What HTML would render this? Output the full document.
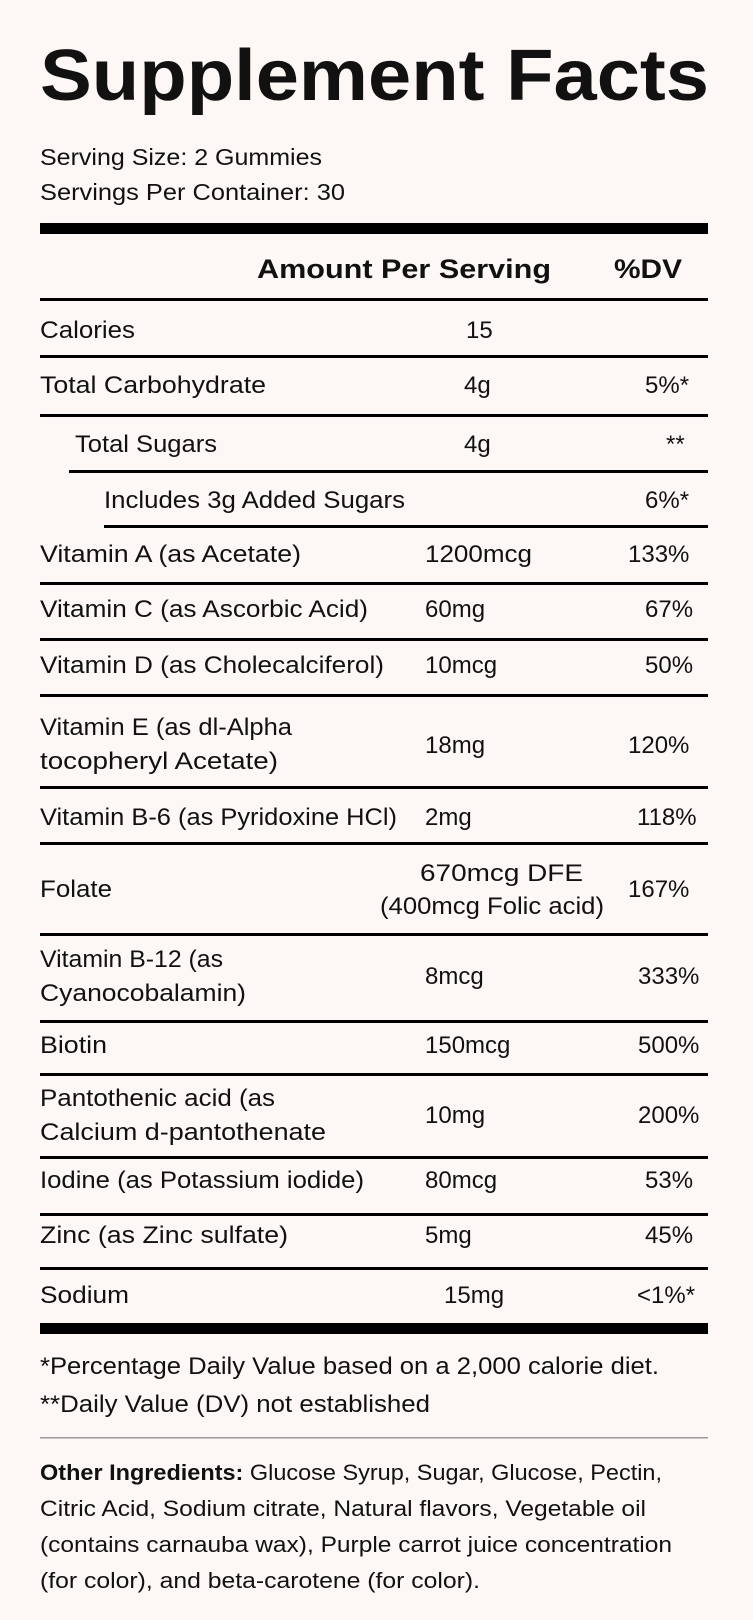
<!DOCTYPE html>
<html><head><meta charset="utf-8"><style>
html,body{margin:0;padding:0;background:#fdf8f5;}
svg{display:block;}
text{font-family:"Liberation Sans",sans-serif;fill:#111;font-size:24px;}
.b{font-weight:bold;}
</style></head><body>
<svg width="753" height="1620" viewBox="0 0 753 1620" xmlns="http://www.w3.org/2000/svg">
<rect width="753" height="1620" fill="#fdf8f5"/>
<text x="40" y="100" class="b" style="font-size:72px" textLength="669" lengthAdjust="spacingAndGlyphs">Supplement Facts</text>
<text x="40" y="165" style="font-size:23px" textLength="282" lengthAdjust="spacingAndGlyphs">Serving Size: 2 Gummies</text>
<text x="40" y="200" style="font-size:23px" textLength="305" lengthAdjust="spacingAndGlyphs">Servings Per Container: 30</text>
<rect x="40" y="223" width="668" height="11" fill="#000"/>
<text x="257" y="278" class="b" style="font-size:27px" textLength="294" lengthAdjust="spacingAndGlyphs">Amount Per Serving</text>
<text x="614" y="278" class="b" style="font-size:27px" textLength="68" lengthAdjust="spacingAndGlyphs">%DV</text>
<g fill="#000">
<rect x="40" y="298" width="668" height="3"/>
<rect x="40" y="355" width="668" height="3"/>
<rect x="40" y="414" width="668" height="3"/>
<rect x="69" y="470" width="639" height="3"/>
<rect x="104" y="525" width="604" height="3"/>
<rect x="40" y="582" width="668" height="3"/>
<rect x="40" y="638" width="668" height="3"/>
<rect x="40" y="694" width="668" height="3"/>
<rect x="40" y="786" width="668" height="3"/>
<rect x="40" y="842" width="668" height="3"/>
<rect x="40" y="933" width="668" height="3"/>
<rect x="40" y="1020" width="668" height="3"/>
<rect x="40" y="1073" width="668" height="3"/>
<rect x="40" y="1156" width="668" height="3"/>
<rect x="40" y="1213" width="668" height="3"/>
<rect x="40" y="1267" width="668" height="3"/>
<rect x="40" y="1323" width="668" height="11"/>
<rect x="40" y="1437" width="668" height="1.5" fill="#999"/>
</g>
<text x="40" y="338" textLength="95" lengthAdjust="spacingAndGlyphs">Calories</text>
<text x="466" y="338">15</text>
<text x="40" y="393" textLength="226" lengthAdjust="spacingAndGlyphs">Total Carbohydrate</text>
<text x="464" y="393">4g</text>
<text x="645" y="393">5%*</text>
<text x="75" y="452" textLength="142" lengthAdjust="spacingAndGlyphs">Total Sugars</text>
<text x="464" y="452">4g</text>
<text x="666" y="452">**</text>
<text x="104" y="508" textLength="301" lengthAdjust="spacingAndGlyphs">Includes 3g Added Sugars</text>
<text x="645" y="508">6%*</text>
<text x="40" y="562" textLength="261" lengthAdjust="spacingAndGlyphs">Vitamin A (as Acetate)</text>
<text x="425" y="562" textLength="107" lengthAdjust="spacingAndGlyphs">1200mcg</text>
<text x="628" y="562">133%</text>
<text x="40" y="617" textLength="328" lengthAdjust="spacingAndGlyphs">Vitamin C (as Ascorbic Acid)</text>
<text x="425" y="617">60mg</text>
<text x="645" y="617">67%</text>
<text x="40" y="673" textLength="344" lengthAdjust="spacingAndGlyphs">Vitamin D (as Cholecalciferol)</text>
<text x="425" y="673">10mcg</text>
<text x="645" y="673">50%</text>
<text x="40" y="735" textLength="252" lengthAdjust="spacingAndGlyphs">Vitamin E (as dl-Alpha</text>
<text x="40" y="769" textLength="238" lengthAdjust="spacingAndGlyphs">tocopheryl Acetate)</text>
<text x="425" y="753">18mg</text>
<text x="628" y="753">120%</text>
<text x="40" y="825" textLength="357" lengthAdjust="spacingAndGlyphs">Vitamin B-6 (as Pyridoxine HCl)</text>
<text x="425" y="825">2mg</text>
<text x="637" y="825">118%</text>
<text x="40" y="897" textLength="72" lengthAdjust="spacingAndGlyphs">Folate</text>
<text x="420" y="881" textLength="163" lengthAdjust="spacingAndGlyphs">670mcg DFE</text>
<text x="380" y="914" textLength="224" lengthAdjust="spacingAndGlyphs">(400mcg Folic acid)</text>
<text x="628" y="897">167%</text>
<text x="40" y="967" textLength="183" lengthAdjust="spacingAndGlyphs">Vitamin B-12 (as</text>
<text x="40" y="1001" textLength="206" lengthAdjust="spacingAndGlyphs">Cyanocobalamin)</text>
<text x="425" y="984">8mcg</text>
<text x="638" y="984">333%</text>
<text x="40" y="1053" textLength="67" lengthAdjust="spacingAndGlyphs">Biotin</text>
<text x="425" y="1053">150mcg</text>
<text x="638" y="1053">500%</text>
<text x="40" y="1106" textLength="235" lengthAdjust="spacingAndGlyphs">Pantothenic acid (as</text>
<text x="40" y="1140" textLength="286" lengthAdjust="spacingAndGlyphs">Calcium d-pantothenate</text>
<text x="425" y="1123">10mg</text>
<text x="638" y="1123">200%</text>
<text x="40" y="1188" textLength="324" lengthAdjust="spacingAndGlyphs">Iodine (as Potassium iodide)</text>
<text x="425" y="1188">80mcg</text>
<text x="645" y="1188">53%</text>
<text x="40" y="1243" textLength="248" lengthAdjust="spacingAndGlyphs">Zinc (as Zinc sulfate)</text>
<text x="425" y="1243">5mg</text>
<text x="645" y="1243">45%</text>
<text x="40" y="1303" textLength="89" lengthAdjust="spacingAndGlyphs">Sodium</text>
<text x="444" y="1303">15mg</text>
<text x="637" y="1303">&lt;1%*</text>
<text x="40" y="1374" textLength="619" lengthAdjust="spacingAndGlyphs">*Percentage Daily Value based on a 2,000 calorie diet.</text>
<text x="40" y="1412" textLength="390" lengthAdjust="spacingAndGlyphs">**Daily Value (DV) not established</text>
<text x="40" y="1480" style="font-size:22px" textLength="622" lengthAdjust="spacingAndGlyphs"><tspan class="b">Other Ingredients:</tspan> Glucose Syrup, Sugar, Glucose, Pectin,</text>
<text x="40" y="1516" style="font-size:22px" textLength="606" lengthAdjust="spacingAndGlyphs">Citric Acid, Sodium citrate, Natural flavors, Vegetable oil</text>
<text x="40" y="1552" style="font-size:22px" textLength="632" lengthAdjust="spacingAndGlyphs">(contains carnauba wax), Purple carrot juice concentration</text>
<text x="40" y="1588" style="font-size:22px" textLength="440" lengthAdjust="spacingAndGlyphs">(for color), and beta-carotene (for color).</text>
</svg>
</body></html>
